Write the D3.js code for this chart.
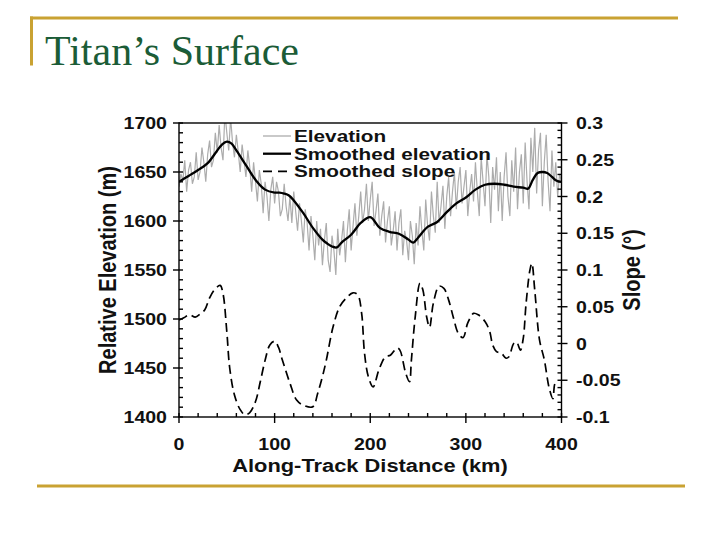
<!DOCTYPE html>
<html><head><meta charset="utf-8">
<script src="https://cdn.jsdelivr.net/npm/d3@7"></script>
<style>body{margin:0;background:#fff}</style>
</head><body>
<svg id="c" width="720" height="540" xmlns="http://www.w3.org/2000/svg"></svg>
<script>
// ---------- data ----------
const titleText = "Titan\u2019s Surface";
const elevationKm = d3.range(0, 401, 2);
const elevation = [
1635,1648,1641,1662,1630, 1652,1660,1638,1645,1670, 1642,1650,1675,1660,1640,
1668,1682,1655,1662,1690, 1670,1698,1675,1662,1710, 1690,1672,1705,1680,1665,
1688,1670,1650,1678,1662, 1645,1672,1655,1630,1660, 1640,1620,1652,1638,1608,
1640,1625,1600,1632,1645, 1618,1640,1630,1605,1612, 1638,1615,1600,1625,1598,
1630,1610,1590,1618,1600, 1578,1612,1598,1570,1605, 1585,1560,1600,1575,1592,
1555,1580,1598,1560,1548, 1585,1570,1545,1592,1565, 1580,1600,1558,1590,1612,
1570,1595,1618,1585,1605, 1630,1598,1612,1638,1600, 1622,1640,1595,1610,1628,
1585,1605,1620,1578,1600, 1615,1575,1590,1610,1570, 1598,1612,1565,1590,1580,
1560,1600,1585,1556,1598, 1575,1615,1590,1570,1622, 1595,1580,1630,1605,1588,
1640,1598,1615,1636,1592, 1625,1645,1605,1630,1650, 1612,1640,1655,1618,1635,
1652,1605,1630,1648,1620, 1660,1630,1605,1665,1640, 1615,1668,1645,1598,1655,
1632,1665,1610,1650,1600, 1645,1670,1625,1605,1662, 1630,1675,1612,1650,1668,
1618,1680,1640,1612,1685, 1650,1695,1628,1672,1690, 1615,1660,1688,1640,1610,
1672,1635,1660,1625,1648, 1640
];
const smoothKm   = [0,10,20,30,40,45,50,55,60,70,80,90,100,105,110,115,120,130,140,150,155,160,165,170,180,190,200,210,220,230,240,245,250,260,270,280,290,300,310,320,330,340,350,360,365,370,375,380,385,390,395,400];
const smoothElev = [1640,1646,1652,1659,1672,1678,1681,1679,1672,1657,1642,1632,1629,1629,1628,1626,1621,1608,1593,1581,1577,1574,1573,1578,1586,1598,1604,1593,1589,1587,1581,1578,1583,1594,1599,1609,1618,1624,1632,1637,1638,1637,1635,1634,1633,1642,1649,1650,1649,1645,1641,1640];
const slopeKm = [0,5,11,17,22,27,32,37,43,46,50,53,58,64,69,74,80,85,90,95,100,104,108,116,123,130,140,145,150,154,161,168,175,182,187,191,194,198,203,209,216,221,228,231,237,241,243,247,252,255,259,262,266,272,277,282,287,292,297,302,308,313,320,325,328,332,337,342,345,350,353,357,360,363,367,369,372,377,382,387,391,393,396];
const slope = [0.032,0.035,0.039,0.036,0.040,0.046,0.062,0.073,0.079,0.068,0.016,-0.033,-0.070,-0.090,-0.097,-0.094,-0.079,-0.052,-0.023,-0.002,0.003,-0.005,-0.022,-0.054,-0.077,-0.084,-0.086,-0.068,-0.045,-0.023,0.022,0.050,0.062,0.069,0.066,0.041,-0.013,-0.045,-0.059,-0.036,-0.018,-0.016,-0.006,-0.009,-0.040,-0.052,-0.023,0.036,0.082,0.073,0.036,0.022,0.055,0.078,0.075,0.059,0.035,0.014,0.008,0.028,0.041,0.039,0.030,0.016,-0.002,-0.011,-0.013,-0.020,-0.018,0.000,0.002,-0.009,0.007,0.055,0.100,0.109,0.073,0.005,-0.022,-0.060,-0.075,-0.055,-0.050];
const xTicks = [0,100,200,300,400];
const xTickLabels = ["0","100","200","300","400"];
const leftTicks = [1400,1450,1500,1550,1600,1650,1700];
const leftTickLabels = ["1400","1450","1500","1550","1600","1650","1700"];
const rightTicks = [-0.1,-0.05,0,0.05,0.1,0.15,0.2,0.25,0.3];
const rightTickLabels = ["-0.1","-0.05","0","0.05","0.1","0.15","0.2","0.25","0.3"];
const legendLabels = ["Elevation","Smoothed elevation","Smoothed slope"];
const xTitle = "Along-Track Distance (km)";
const yLeftTitle = "Relative Elevation (m)";
const yRightTitle = "Slope (\u00B0)";

// ---------- drawing ----------
const svg = d3.select("#c");
const gold = "#c9a232";
const SX = 1.15; // horizontal stretch of the embedded figure
const FONT = "'Liberation Sans', Arial, Helvetica, sans-serif";

// slide decorations
svg.append("rect").attr("x",30).attr("y",16.5).attr("width",648).attr("height",3).attr("fill",gold);
svg.append("rect").attr("x",30).attr("y",16.5).attr("width",3).attr("height",49).attr("fill",gold);
svg.append("rect").attr("x",37).attr("y",484.5).attr("width",648).attr("height",3).attr("fill",gold);
svg.append("text").attr("x",45).attr("y",65).text(titleText)
  .attr("font-family","'Liberation Serif','Times New Roman',serif").attr("font-size",42).attr("fill","#1b5c37");

const x = d3.scaleLinear().domain([0,400]).range([179,561.5]);
const yL = d3.scaleLinear().domain([1400,1700]).range([417,123]);
const yR = d3.scaleLinear().domain([-0.1,0.3]).range([417,123]);

const defs = svg.append("defs");
defs.append("clipPath").attr("id","plot").append("rect")
  .attr("x",x(0)).attr("y",yL(1700)).attr("width",x(400)-x(0)).attr("height",yL(1400)-yL(1700));

function txt(g, px, py, s, anchor, size, rot, sx){
  return g.append("text")
    .attr("transform", `translate(${px},${py}) scale(${sx||SX},1)` + (rot ? ` rotate(${rot})` : ""))
    .attr("text-anchor", anchor).attr("font-family", FONT).attr("font-weight","bold")
    .attr("font-size", size).attr("fill","#111").text(s);
}

const plot = svg.append("g").attr("clip-path","url(#plot)");
// gray raw elevation
plot.append("path").datum(elevationKm.map((k,i)=>[k,elevation[i]]))
  .attr("fill","none").attr("stroke","#acacac").attr("stroke-width",1.2)
  .attr("d", d3.line().x(d=>x(d[0])).y(d=>yL(d[1])));
// smoothed elevation
plot.append("path").datum(smoothKm.map((k,i)=>[k,smoothElev[i]]))
  .attr("fill","none").attr("stroke","#000").attr("stroke-width",2.3)
  .attr("d", d3.line().curve(d3.curveCatmullRom.alpha(0.5)).x(d=>x(d[0])).y(d=>yL(d[1])));
// smoothed slope
plot.append("path").datum(slopeKm.map((k,i)=>[k,slope[i]]))
  .attr("fill","none").attr("stroke","#000").attr("stroke-width",1.7).attr("stroke-dasharray","9,5")
  .attr("d", d3.line().curve(d3.curveCatmullRom.alpha(0.5)).x(d=>x(d[0])).y(d=>yR(d[1])));

// frame
const ax = svg.append("g").attr("stroke","#000").attr("stroke-width",1.4).attr("fill","none");
ax.append("rect").attr("x",x(0)).attr("y",yL(1700)).attr("width",x(400)-x(0)).attr("height",yL(1400)-yL(1700));

// left ticks
d3.range(1400,1701,10).forEach(v=>{
  const major = v % 50 === 0;
  ax.append("line").attr("x1", x(0) - (major?6:0)).attr("x2", x(0)+4).attr("y1", yL(v)).attr("y2", yL(v));
});
// right ticks
d3.range(-10,31,1).forEach(i=>{
  const v = i/100, major = i % 5 === 0;
  ax.append("line").attr("x1", x(400) - 4).attr("x2", x(400)+(major?6:0)).attr("y1", yR(v)).attr("y2", yR(v));
});
// bottom ticks
d3.range(0,401,20).forEach(v=>{
  const major = v % 100 === 0;
  ax.append("line").attr("x1", x(v)).attr("x2", x(v)).attr("y1", yL(1400)-4).attr("y2", yL(1400)+(major?6:0));
});

const lab = svg.append("g");
leftTicks.forEach((v,i)=> txt(lab, 167, yL(v)+6, leftTickLabels[i], "end", 17));
rightTicks.forEach((v,i)=> txt(lab, 576, yR(v)+6, rightTickLabels[i], "start", 17));
xTicks.forEach((v,i)=> txt(lab, x(v), 450, xTickLabels[i], "middle", 17));
txt(lab, 370, 472, xTitle, "middle", 19);
txt(lab, 116, 270, yLeftTitle, "middle", 20, -90);
txt(lab, 640, 270, yRightTitle, "middle", 20, -90);

// legend
const lg = svg.append("g");
const legY = [136, 153.7, 171.4];
const legStyles = [
  {stroke:"#acacac", w:1.3, dash:null},
  {stroke:"#000", w:2.3, dash:null},
  {stroke:"#000", w:1.7, dash:"9,6"}
];
legendLabels.forEach((s,i)=>{
  lg.append("line").attr("x1",263).attr("x2",291).attr("y1",legY[i]).attr("y2",legY[i])
    .attr("stroke",legStyles[i].stroke).attr("stroke-width",legStyles[i].w)
    .attr("stroke-dasharray",legStyles[i].dash);
  txt(lg, 294, legY[i]+6, s, "start", 15.6, 0, 1.33);
});
</script>
</body></html>
